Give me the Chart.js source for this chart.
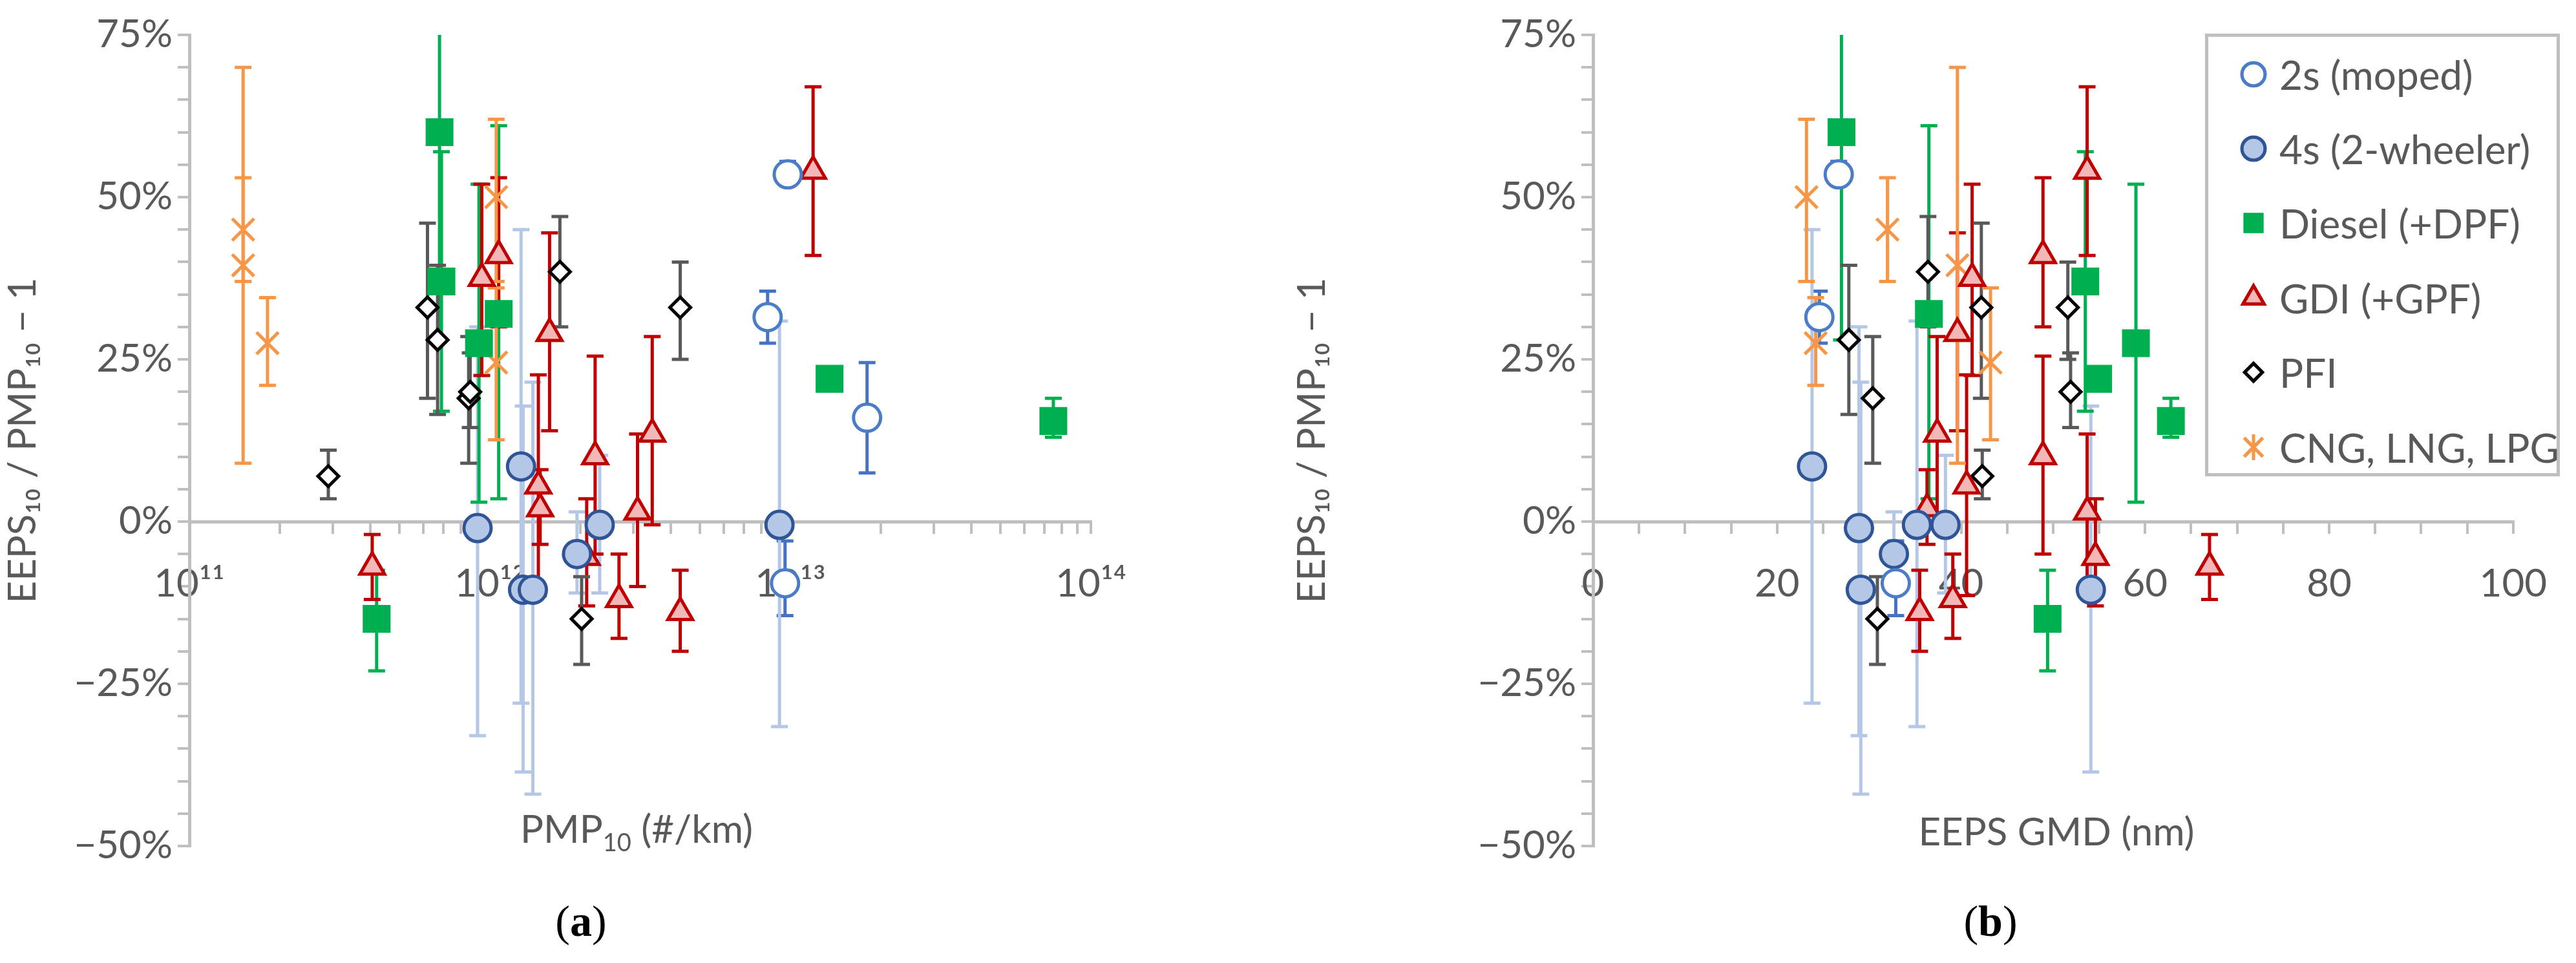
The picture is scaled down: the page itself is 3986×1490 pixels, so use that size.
<!DOCTYPE html>
<html>
<head>
<meta charset="utf-8">
<script src="https://cdn.jsdelivr.net/npm/chart.js@4"></script>
<style>
  body { margin:0; width:3986px; height:1490px; background:#fff; position:relative; overflow:hidden; font-family: Lato, "Open Sans", sans-serif; }
  .box { position:absolute; top:0; height:1490px; }
  .lbl { position:absolute; color:#595959; font-size:60px; transform:translate(-50%,-50%); white-space:nowrap; }
  .cap { position:absolute; font-family:"Liberation Serif", serif; font-size:68px; transform:translate(-50%,-50%); }
  #legend { position:absolute; left:3412px; top:52px; width:549px; height:685px; border:5px solid #BFBFBF; box-sizing:border-box; background:#fff; }
  #legend div { position:absolute; left:110px; font-size:62px; color:#595959; transform:translateY(-50%); white-space:nowrap; }
  #legend canvas { position:absolute; left:40px; }
</style>
</head>
<body>
<div class="box" style="left:0;width:1990px"><canvas id="chartA"></canvas></div>
<div class="box" style="left:1995px;width:1991px"><canvas id="chartB"></canvas></div>
<div class="lbl" style="left:985px;top:1285px">PMP<sub style="font-size:38px">10</sub> (#/km)</div>
<div class="lbl" style="left:3182px;top:1285px">EEPS GMD (nm)</div>
<div class="cap" style="left:899px;top:1425px">(<b>a</b>)</div>
<div class="cap" style="left:3080px;top:1425px">(<b>b</b>)</div>
<div id="legend"></div>
<script>
// ---- data ----
const seriesNames = ['2s (moped)', '4s (2-wheeler)', 'Diesel (+DPF)', 'GDI (+GPF)', 'PFI', 'CNG, LNG, LPG'];

const mopedPmp = [9.8e12, 8.4e12, 1.8e13, 9.6e12];
const mopedGmd = [26.7, 24.6, null, 32.9];
const mopedY   = [53.5, 31.5, 16, -9.5];
const mopedLo  = [52, 27.5, 7.5, -14.5];
const mopedHi  = [55.5, 35.5, 24.5, -3];

const fourPmp = [1.27e12, 9.1e11, 1.29e12, 1.39e12, 1.95e12, 2.32e12, 9.2e12];
const fourGmd = [23.8, 28.9, 54.1, 29.1, 32.7, 38.3, 35.2];
const fourY   = [8.5, -1, -10.5, -10.5, -5, -0.5, -0.5];
const fourLo  = [-28, -33, -38.6, -42, -11, -11, -31.6];
const fourHi  = [45, 30, 17.8, 21.5, 1.5, 10.2, 30.9];

const dieselPmp = [6.8e11, 6.9e11, 9.2e11, 1.07e12, 4.2e11, 1.35e13, 7.5e13];
const dieselGmd = [27, 53.5, 59, 36.5, 49.4, 54.9, 62.8];
const dieselY   = [60, 37, 27.5, 32, -15, 22, 15.5];
const dieselLo  = [28, 17, 3, 3.5, -23, 21, 13];
const dieselHi  = [76, 57, 52, 61, -7.5, 23, 19];

const gdiPmp = [4.06e11, 9.4e11, 1.07e12, 1.45e12, 1.47e12, 1.58e12, 2.1e12, 2.24e12, 2.69e12, 3.1e12, 3.47e12, 4.3e12, 1.19e13];
const gdiGmd = [67, 41.2, 48.9, 40.6, 36.3, 39.6, 54.6, 48.9, 39.1, 53.7, 37.4, 35.5, 53.7];
const gdiY   = [-7, 37.5, 41, 5.5, 2, 29, -5.5, 10, -12, 1.5, 13.5, -14, 54];
const gdiLo  = [-12, 22.5, 30, -11.4, -3.5, 14, -13, -5, -18, -10, -0.5, -20, 41];
const gdiHi  = [-2, 52, 53, 22.6, 8, 44.5, 3.5, 25.5, -5, 13.5, 28.5, -7.5, 67];

const pfiPmp = [2.9e11, 6.2e11, 6.7e11, 8.5e11, 8.6e11, 1.71e12, 2.02e12, 4.3e12];
const pfiGmd = [42.3, 42.2, 27.8, 30.4, 51.9, 36.4, 30.9, 51.6];
const pfiY   = [7, 33, 28, 19, 20, 38.5, -15, 33];
const pfiLo  = [3.5, 19, 16.5, 9, 14.5, 30, -22, 25];
const pfiHi  = [11, 46, 39.5, 28.5, 26, 47, -8.5, 40];

const cngPmp = [1.51e11, 1.51e11, 1.82e11, 1.05e12, 1.05e12];
const cngGmd = [32, 39.6, 24.2, 23.2, 43.2];
const cngY   = [45, 39.5, 27.5, 50, 24.5];
const cngLo  = [37, 9, 21, 37, 12.6];
const cngHi  = [53, 70, 34.5, 62, 36];

const yTicks = [-50, -25, 0, 25, 50, 75];
const xTicksB = [0, 20, 40, 60, 80, 100];

const styles = [
  { pointStyle:'circle', r:21, bg:'#ffffff', border:'#4A7CC8', err:'#4472C4', bw:5 },
  { pointStyle:'circle', r:21, bg:'#B4C7E7', border:'#2F5597', err:'#B4C7E7', bw:5 },
  { pointStyle:'rect', r:29, bg:'#00B050', border:'#00B050', err:'#00B050', bw:2 },
  { pointStyle:'triangle', r:22, bg:'#F2B8B8', border:'#C00000', err:'#C00000', bw:5 },
  { pointStyle:'rectRot', r:16, bg:'#ffffff', border:'#000000', err:'#595959', bw:5 },
  { pointStyle:'crossRot', r:24, bg:'#F79646', border:'#F79646', err:'#F79646', bw:5 }
];

const groups = [
  [mopedPmp, mopedGmd, mopedY, mopedLo, mopedHi],
  [fourPmp, fourGmd, fourY, fourLo, fourHi],
  [dieselPmp, dieselGmd, dieselY, dieselLo, dieselHi],
  [gdiPmp, gdiGmd, gdiY, gdiLo, gdiHi],
  [pfiPmp, pfiGmd, pfiY, pfiLo, pfiHi],
  [cngPmp, cngGmd, cngY, cngLo, cngHi]
];

function makeDatasets(xIdx) {
  return groups.map((g, k) => {
    const s = styles[k];
    const pts = [];
    g[2].forEach((y, i) => {
      if (g[xIdx][i] != null) pts.push({ x: g[xIdx][i], y: y, lo: g[3][i], hi: g[4][i] });
    });
    return {
      label: seriesNames[k], data: pts,
      pointStyle: s.pointStyle, pointRadius: s.r, pointHoverRadius: s.r,
      backgroundColor: s.bg, borderColor: s.border, pointBorderWidth: s.bw,
      errColor: s.err, showLine: false
    };
  });
}

const errorBars = {
  id: 'errorBars',
  beforeDatasetsDraw(chart) {
    const ctx = chart.ctx, xs = chart.scales.x, ys = chart.scales.y;
    ctx.save();
    chart.data.datasets.forEach(ds => {
      ctx.strokeStyle = ds.errColor;
      ctx.lineWidth = 5;
      ds.data.forEach(p => {
        const px = xs.getPixelForValue(p.x);
        const top = Math.max(ys.getPixelForValue(p.hi), chart.chartArea.top);
        const bot = ys.getPixelForValue(p.lo);
        ctx.beginPath();
        ctx.moveTo(px, top); ctx.lineTo(px, bot);
        if (ys.getPixelForValue(p.hi) >= chart.chartArea.top) { ctx.moveTo(px - 13, top); ctx.lineTo(px + 13, top); }
        ctx.moveTo(px - 13, bot); ctx.lineTo(px + 13, bot);
        ctx.stroke();
      });
    });
    ctx.restore();
  }
};

const supers = { '1':'¹', '2':'²', '3':'³', '4':'⁴' };
const tickFont = { family: 'Lato, "Open Sans", sans-serif', size: 60 };

function yScale(width) {
  return {
    min: -50, max: 75,
    ticks: { stepSize: 5, autoSkip: false, color: '#595959', font: tickFont, padding: 8,
      callback: v => yTicks.includes(v) ? (v < 0 ? '\u2212' + (-v) : v) + '%' : '' },
    grid: { drawOnChartArea: false, color: '#BFBFBF', tickLength: 18, lineWidth: 4 },
    border: { color: '#BFBFBF', width: 5 },
    title: { display: true, text: 'EEPS\u2081\u2080 / PMP\u2081\u2080 \u2212 1', color: '#595959', font: tickFont, padding: 0 },
    afterFit: s => { s.width = width; }
  };
}

Chart.defaults.animation = false;

new Chart(document.getElementById('chartA'), {
  type: 'scatter',
  data: { datasets: makeDatasets(0) },
  options: {
    responsive: true, maintainAspectRatio: false,
    layout: { padding: { top: 54, bottom: 181, right: 302, left: 0 } },
    plugins: { legend: { display: false }, tooltip: { enabled: false } },
    scales: {
      x: {
        type: 'logarithmic', min: 1e11, max: 1e14, position: { y: 0 },
        ticks: { color: '#595959', font: tickFont, padding: 45, autoSkip: false, maxRotation: 0,
          callback: v => {
            const e = Math.log10(v);
            if (Math.abs(e - Math.round(e)) > 1e-9) return '';
            return '10' + String(Math.round(e)).split('').map(c => supers[c]).join('');
          } },
        afterBuildTicks: s => {
          const t = [];
          for (let e = 11; e < 14; e++) for (let m = 1; m < 10; m++) t.push({ value: m * Math.pow(10, e) });
          t.push({ value: 1e14 });
          s.ticks = t;
        },
        grid: { drawOnChartArea: false, color: '#BFBFBF', tickLength: 16, lineWidth: 4 },
        border: { color: '#BFBFBF', width: 5 }
      },
      y: yScale(293)
    }
  },
  plugins: [errorBars]
});

new Chart(document.getElementById('chartB'), {
  type: 'scatter',
  data: { datasets: makeDatasets(1) },
  options: {
    responsive: true, maintainAspectRatio: false,
    layout: { padding: { top: 54, bottom: 181, right: 91, left: 0 } },
    plugins: { legend: { display: false }, tooltip: { enabled: false } },
    scales: {
      x: {
        type: 'linear', min: 0, max: 100, position: { y: 0 },
        ticks: { stepSize: 5, color: '#595959', font: tickFont, padding: 45, autoSkip: false, maxRotation: 0,
          callback: v => xTicksB.includes(v) ? String(v) : '' },
        grid: { drawOnChartArea: false, color: '#BFBFBF', tickLength: 16, lineWidth: 4 },
        border: { color: '#BFBFBF', width: 5 }
      },
      y: yScale(470)
    }
  },
  plugins: [errorBars]
});

// legend with real text and drawn markers
const legend = document.getElementById('legend');
const rowY = [58, 173, 288, 404, 519, 635];
seriesNames.forEach((name, k) => {
  const s = styles[k];
  const c = document.createElement('canvas');
  c.width = 60; c.height = 60;
  c.style.top = (rowY[k] - 30) + 'px';
  const ctx = c.getContext('2d');
  ctx.fillStyle = s.bg; ctx.strokeStyle = s.border; ctx.lineWidth = s.bw;
  Chart.helpers.drawPoint(ctx, { pointStyle: s.pointStyle, radius: Math.min(s.r, 24) * 0.85, borderWidth: s.bw, rotation: 0 }, 30, 30);
  ctx.fill(); ctx.stroke();
  if (s.pointStyle === 'crossRot') {
    ctx.beginPath(); ctx.moveTo(30, 10); ctx.lineTo(30, 50); ctx.stroke();
  }
  legend.appendChild(c);
  const d = document.createElement('div');
  d.textContent = name;
  d.style.top = rowY[k] + 'px';
  legend.appendChild(d);
});
</script>
</body>
</html>
